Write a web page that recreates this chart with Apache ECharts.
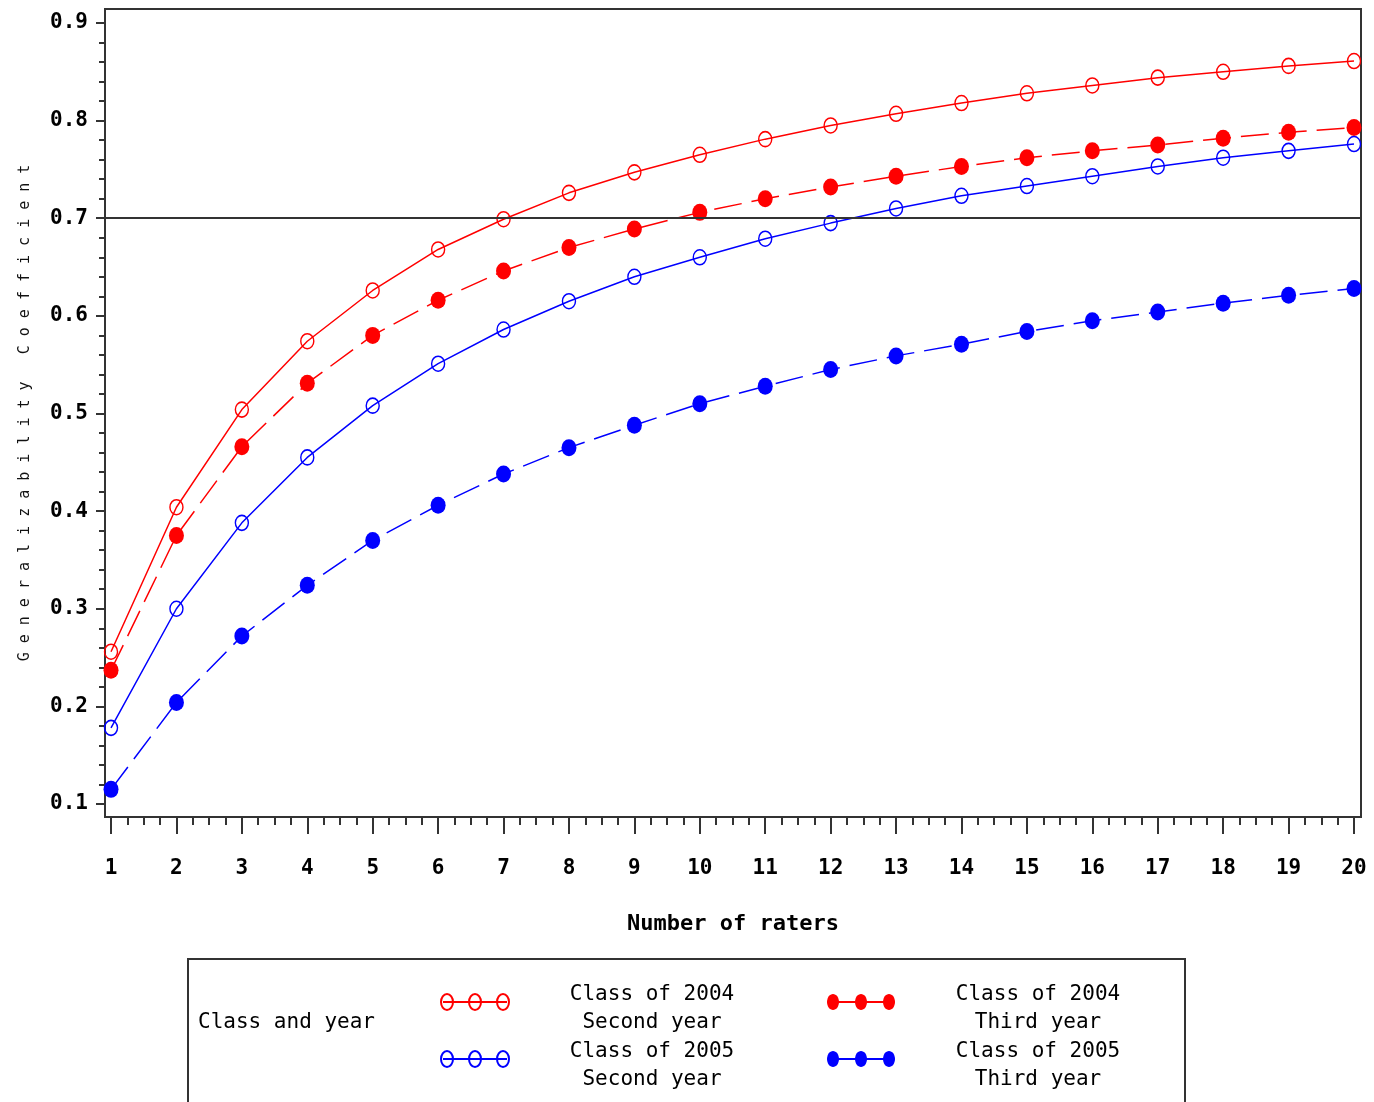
<!DOCTYPE html>
<html>
<head>
<meta charset="utf-8">
<script src="https://cdn.jsdelivr.net/npm/echarts@6/dist/echarts.min.js"></script>
<style>
  html, body { margin: 0; padding: 0; background: #fff; }
  #chart { width: 1374px; height: 1102px; }
</style>
</head>
<body>
<div id="chart"></div>
<script>
// number of raters (x) and the four curves
var raters = [1, 2, 3, 4, 5, 6, 7, 8, 9, 10, 11, 12, 13, 14, 15, 16, 17, 18, 19, 20];
var class2004Second = [0.256, 0.404, 0.504, 0.574, 0.626, 0.668, 0.699, 0.726, 0.747, 0.765,
                       0.781, 0.795, 0.807, 0.818, 0.828, 0.836, 0.844, 0.850, 0.856, 0.861];
var class2004Third  = [0.237, 0.375, 0.466, 0.531, 0.580, 0.616, 0.646, 0.670, 0.689, 0.706,
                       0.720, 0.732, 0.743, 0.753, 0.762, 0.769, 0.775, 0.782, 0.788, 0.793];
var class2005Second = [0.178, 0.300, 0.388, 0.455, 0.508, 0.551, 0.586, 0.615, 0.640, 0.660,
                       0.679, 0.695, 0.710, 0.723, 0.733, 0.743, 0.753, 0.762, 0.769, 0.776];
var class2005Third  = [0.115, 0.204, 0.272, 0.324, 0.370, 0.406, 0.438, 0.465, 0.488, 0.510,
                       0.528, 0.545, 0.559, 0.571, 0.584, 0.595, 0.604, 0.613, 0.621, 0.628];
var yTicks = [0.1, 0.2, 0.3, 0.4, 0.5, 0.6, 0.7, 0.8, 0.9];
var refLine = 0.7;

var RED = '#ff0000', BLUE = '#0000ff';
var FONT = 'DejaVu Sans Mono';

// minor ticks
var yMinor = [];
for (var i = 0; i < 8; i++) for (var k = 1; k < 5; k++) yMinor.push(+(0.1 + i * 0.1 + k * 0.02).toFixed(3));
var xMinor = [];
for (var j = 1; j < 20; j++) for (var q = 1; q < 4; q++) xMinor.push(j + q * 0.25);

function pairs(ys) {
    return raters.map(function (x, i) { return [x, ys[i]]; });
}

var yMin = 0.0867, yMax = 0.9143, xMin = 0.908, xMax = 20.107;

var myChart = echarts.init(document.getElementById('chart'));

function mkSeries(name, ys, color, filled) {
    var s = {
        name: name,
        type: 'line',
        data: pairs(ys),
        symbol: 'circle',
        symbolSize: filled ? [15, 17] : [13, 15],
        lineStyle: { color: color, width: 1.5, type: filled ? [28, 10] : 'solid' },
        itemStyle: filled ? { color: color } : { color: 'rgba(0,0,0,0)', borderColor: color, borderWidth: 1.5 },
        emphasis: { disabled: true }
    };
    return s;
}

var series = [
    mkSeries('Class of 2004 Second year', class2004Second, RED, false),
    mkSeries('Class of 2004 Third year', class2004Third, RED, true),
    mkSeries('Class of 2005 Second year', class2005Second, BLUE, false),
    mkSeries('Class of 2005 Third year', class2005Third, BLUE, true)
];
series[0].markLine = {
    silent: true,
    symbol: 'none',
    label: { show: false },
    lineStyle: { color: '#333', width: 2, type: 'solid' },
    data: [{ yAxis: refLine }]
};

// legend drawn as graphic
var legendItems = [
    { x: 475, y: 1002, color: RED, filled: false, t1: 'Class of 2004', t2: 'Second year', tx: 652 },
    { x: 475, y: 1059, color: BLUE, filled: false, t1: 'Class of 2005', t2: 'Second year', tx: 652 },
    { x: 861, y: 1002, color: RED, filled: true, t1: 'Class of 2004', t2: 'Third year', tx: 1038 },
    { x: 861, y: 1059, color: BLUE, filled: true, t1: 'Class of 2005', t2: 'Third year', tx: 1038 }
];
var graphics = [
    { type: 'rect', shape: { x: 188, y: 959, width: 997, height: 160 },
      style: { fill: 'none', stroke: '#333', lineWidth: 2 } },
    { type: 'text', x: 198, y: 1023,
      style: { text: 'Class and year', font: '21px "' + FONT + '"', fill: '#000', verticalAlign: 'middle' } }
];
legendItems.forEach(function (it) {
    graphics.push({ type: 'line', shape: { x1: it.x - 32, y1: it.y, x2: it.x + 32, y2: it.y },
        style: { stroke: it.color, lineWidth: 2 } });
    [-28, 0, 28].forEach(function (dx) {
        graphics.push({ type: 'ellipse', shape: { cx: it.x + dx, cy: it.y, rx: 6, ry: 8 },
            style: it.filled ? { fill: it.color } : { fill: 'none', stroke: it.color, lineWidth: 2 } });
    });
    graphics.push({ type: 'text', x: it.tx, y: it.y - 7,
        style: { text: it.t1, font: '21px "' + FONT + '"', fill: '#000', align: 'center', verticalAlign: 'middle' } });
    graphics.push({ type: 'text', x: it.tx, y: it.y + 21,
        style: { text: it.t2, font: '21px "' + FONT + '"', fill: '#000', align: 'center', verticalAlign: 'middle' } });
});

var yTitle = 'Generalizability Coefficient'.split('').join(' ');

var option = {
    animation: false,
    backgroundColor: '#fff',
    grid: {
        left: 105, top: 9, right: 13, bottom: 285,
        show: true, borderColor: '#333', borderWidth: 2,
        outerBoundsMode: 'none'
    },
    xAxis: [{
        type: 'value', min: xMin, max: xMax,
        name: 'Number of raters', nameLocation: 'middle', nameGap: 96,
        nameTextStyle: { fontFamily: FONT, fontSize: 22, fontWeight: 'bold', color: '#000' },
        axisLine: { show: true, lineStyle: { color: '#333', width: 2 } },
        axisTick: { show: true, length: 17, customValues: raters, lineStyle: { color: '#333', width: 2 } },
        axisLabel: { customValues: raters, margin: 41, fontFamily: FONT, fontSize: 21, fontWeight: 'bold', color: '#000' },
        splitLine: { show: false }
    }, {
        type: 'value', min: xMin, max: xMax, position: 'bottom',
        axisLine: { show: false },
        axisTick: { show: true, length: 8, customValues: xMinor, lineStyle: { color: '#333', width: 2 } },
        axisLabel: { show: false },
        splitLine: { show: false }
    }],
    yAxis: [{
        type: 'value', min: yMin, max: yMax,
        name: yTitle, nameLocation: 'middle', nameGap: 72, nameRotate: 90,
        nameTextStyle: { fontFamily: FONT, fontSize: 15, color: '#111' },
        axisLine: { show: true, lineStyle: { color: '#333', width: 2 } },
        axisTick: { show: true, length: 9, customValues: yTicks, lineStyle: { color: '#333', width: 2 } },
        axisLabel: { customValues: yTicks, margin: 17, padding: [8, 0, 0, 0], fontFamily: FONT, fontSize: 21,
            fontWeight: 'bold', color: '#000',
            formatter: function (v) { return v.toFixed(1); } },
        splitLine: { show: false }
    }, {
        type: 'value', min: yMin, max: yMax, position: 'left',
        axisLine: { show: false },
        axisTick: { show: true, length: 6, customValues: yMinor, lineStyle: { color: '#333', width: 2 } },
        axisLabel: { show: false },
        splitLine: { show: false }
    }],
    series: series,
    graphic: graphics
};
myChart.setOption(option);
</script>
</body>
</html>
